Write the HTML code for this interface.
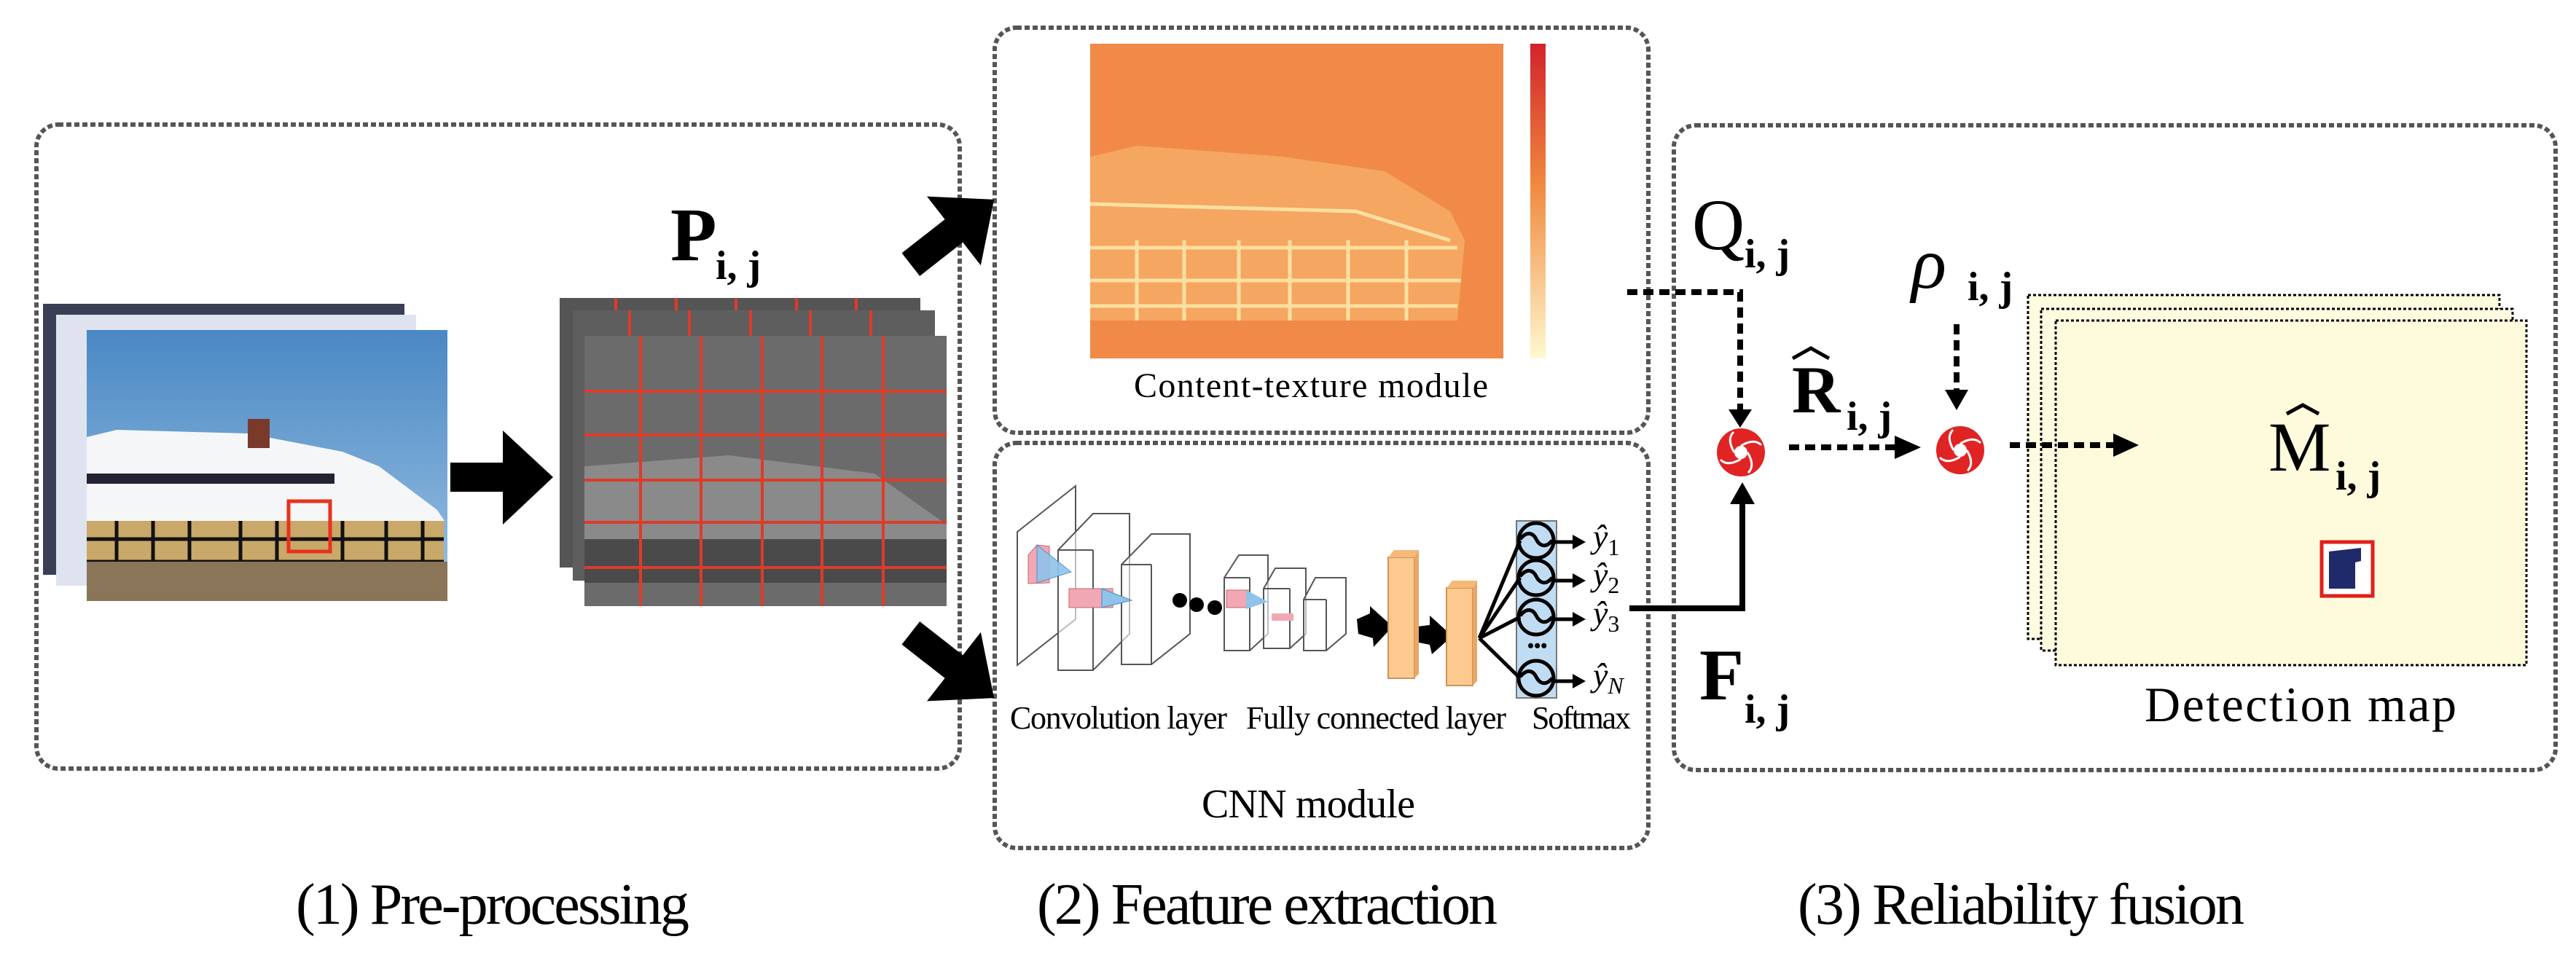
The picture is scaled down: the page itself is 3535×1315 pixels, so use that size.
<!DOCTYPE html>
<html><head><meta charset="utf-8"><style>
html,body{margin:0;padding:0;background:#fff;}
svg{display:block;}
svg text{font-family:"Liberation Serif","DejaVu Serif",serif;}
</style></head><body>
<svg width="3535" height="1315" viewBox="0 0 3535 1315" xmlns="http://www.w3.org/2000/svg" font-family="'Liberation Serif','DejaVu Serif',serif">
<defs>
<linearGradient id="sky" x1="0" y1="0" x2="0" y2="1"><stop offset="0" stop-color="#4a88c4"/><stop offset="1" stop-color="#9cc3e3"/></linearGradient>
<linearGradient id="cbar" x1="0" y1="0" x2="0" y2="1"><stop offset="0" stop-color="#d2232a"/><stop offset="0.45" stop-color="#f08a3e"/><stop offset="1" stop-color="#fff8d0"/></linearGradient>
<g id="ap"><circle r="33" fill="#e02424"/><circle r="9" fill="#fff"/>
<path d="M0,-9 Q18,-20 28,-10 M9,0 Q20,18 10,28 M0,9 Q-18,20 -28,10 M-9,0 Q-20,-18 -10,-28" stroke="#fff" stroke-width="3" fill="none"/></g>
<g id="sm"><circle r="24" fill="none" stroke="#000" stroke-width="5"/><path d="M-22,-2 C-12,-14 -4,-10 0,-2 C4,6 12,12 22,0" fill="none" stroke="#000" stroke-width="5"/></g>
</defs>
<g fill="none" stroke="#555" stroke-width="6" stroke-dasharray="7,4">
<rect x="50" y="171" width="1267" height="884" rx="30"/>
<rect x="1365" y="38" width="897" height="556" rx="30"/>
<rect x="1365" y="608" width="897" height="556" rx="30"/>
<rect x="2297" y="172" width="1210" height="885" rx="30"/>
</g>
<!-- photo stack -->
<rect x="59" y="417" width="496" height="372" fill="#3a3f55"/>
<rect x="77" y="432" width="494" height="372" fill="#dfe3ef"/>
<rect x="119" y="453" width="495" height="372" fill="url(#sky)"/>
<polygon points="119,600 160,590 340,595 470,620 520,640 600,700 610,715 119,715" fill="#f4f6f8"/>
<rect x="340" y="575" width="30" height="40" fill="#7a3a2a"/>
<rect x="119" y="650" width="340" height="14" fill="#223"/>
<rect x="119" y="715" width="490" height="56" fill="#c9a86a"/>
<g stroke="#111" stroke-width="5">
<line x1="119" y1="740" x2="609" y2="740"/><line x1="119" y1="771" x2="609" y2="771"/>
<line x1="160" y1="715" x2="160" y2="771"/><line x1="210" y1="715" x2="210" y2="771"/><line x1="260" y1="715" x2="260" y2="771"/><line x1="330" y1="715" x2="330" y2="771"/><line x1="380" y1="715" x2="380" y2="771"/><line x1="470" y1="715" x2="470" y2="771"/><line x1="530" y1="715" x2="530" y2="771"/><line x1="580" y1="715" x2="580" y2="771"/>
</g>
<rect x="119" y="771" width="495" height="54" fill="#8a7558"/>
<rect x="396" y="688" width="57" height="69" fill="none" stroke="#e8321e" stroke-width="5"/>
<polygon points="618,635 690,635 690,591 759,655 690,720 690,675 618,675" fill="#000"/>
<!-- grey stack -->
<rect x="768" y="409" width="495" height="370" fill="#555"/>
<rect x="786" y="426" width="497" height="371" fill="#5e5e5e"/>
<rect x="802" y="461" width="497" height="371" fill="#6b6b6b"/>
<polygon points="802,640 1000,625 1200,650 1299,720 1299,740 802,740" fill="#8a8a8a"/>
<rect x="802" y="740" width="497" height="60" fill="#4a4a4a"/>
<g stroke="#e03a2a" stroke-width="4">
<line x1="879" y1="461" x2="879" y2="832"/><line x1="962" y1="461" x2="962" y2="832"/><line x1="1046" y1="461" x2="1046" y2="832"/><line x1="1128" y1="461" x2="1128" y2="832"/><line x1="1212" y1="461" x2="1212" y2="832"/>
<line x1="802" y1="537" x2="1299" y2="537"/><line x1="802" y1="597" x2="1299" y2="597"/><line x1="802" y1="659" x2="1299" y2="659"/><line x1="802" y1="717" x2="1299" y2="717"/><line x1="802" y1="779" x2="1299" y2="779"/>
<line x1="845" y1="409" x2="845" y2="426"/><line x1="928" y1="409" x2="928" y2="426"/><line x1="1010" y1="409" x2="1010" y2="426"/><line x1="1093" y1="409" x2="1093" y2="426"/><line x1="1175" y1="409" x2="1175" y2="426"/>
<line x1="864" y1="426" x2="864" y2="461"/><line x1="946" y1="426" x2="946" y2="461"/><line x1="1030" y1="426" x2="1030" y2="461"/><line x1="1112" y1="426" x2="1112" y2="461"/><line x1="1195" y1="426" x2="1195" y2="461"/>
</g>
<text x="920" y="357" font-size="104" font-weight="bold">P</text>
<text x="982" y="383" font-size="56" font-weight="bold">i, j</text>
<g transform="translate(1305,320) rotate(-38)"><polygon points="-70,-20 5,-20 5,-60 75,0 5,60 5,20 -70,20" fill="#000"/></g>
<g transform="translate(1305,912) rotate(38)"><polygon points="-70,-20 5,-20 5,-60 75,0 5,60 5,20 -70,20" fill="#000"/></g>
<!-- heatmap -->
<rect x="1496" y="60" width="567" height="432" fill="#f18a48"/>
<polygon points="1496,215 1560,200 1760,215 1900,235 1990,290 2010,330 2000,440 1496,440" fill="#f6b26c" opacity="0.7"/>
<g stroke="#fde0a0" stroke-width="5" fill="none">
<path d="M1496,280 L1860,290 L1990,330"/><path d="M1496,340 L2000,340"/><path d="M1496,385 L2005,385"/><path d="M1496,420 L2000,420"/>
<line x1="1560" y1="330" x2="1560" y2="440"/><line x1="1625" y1="330" x2="1625" y2="440"/><line x1="1700" y1="330" x2="1700" y2="440"/><line x1="1770" y1="330" x2="1770" y2="440"/><line x1="1850" y1="330" x2="1850" y2="440"/><line x1="1930" y1="330" x2="1930" y2="440"/>
</g>
<rect x="2100" y="60" width="21" height="432" fill="url(#cbar)"/>
<text x="1556" y="545" font-size="48" textLength="486">Content-texture module</text>
<!-- CNN -->
<g stroke="#555" stroke-width="2" fill="#fff" fill-opacity="0.6">
<polygon points="1396,730 1476,667 1476,850 1396,913"/>
<polygon points="1452,755 1500,705 1550,705 1550,870 1500,920 1452,920"/><line x1="1452" y1="755" x2="1500" y2="755"/><line x1="1500" y1="755" x2="1500" y2="920"/>
<polygon points="1539,775 1580,733 1633,733 1633,870 1580,912 1539,912"/><line x1="1539" y1="775" x2="1580" y2="775"/><line x1="1580" y1="775" x2="1580" y2="912"/>
<polygon points="1680,793 1700,762 1740,762 1740,870 1715,893 1680,893"/><line x1="1680" y1="793" x2="1715" y2="793"/><line x1="1715" y1="793" x2="1715" y2="893"/>
<polygon points="1734,808 1750,780 1792,780 1792,870 1770,890 1734,890"/><line x1="1734" y1="808" x2="1770" y2="808"/><line x1="1770" y1="808" x2="1770" y2="890"/>
<polygon points="1789,823 1805,793 1847,793 1847,870 1820,893 1789,893"/><line x1="1789" y1="823" x2="1820" y2="823"/><line x1="1820" y1="823" x2="1820" y2="893"/>
</g>
<polygon points="1411,762 1423,748 1440,750 1440,800 1411,801" fill="#f2a7b4" stroke="#c66" stroke-width="1"/>
<polygon points="1423,748 1470,785 1423,800" fill="#8fc3ea" stroke="#4a8ac4" stroke-width="1" opacity="0.9"/>
<rect x="1467" y="808" width="60" height="26" fill="#f2a7b4" stroke="#c66" stroke-width="1"/>
<polygon points="1512,808 1553,824 1512,834" fill="#8fc3ea" stroke="#4a8ac4" stroke-width="1"/>
<rect x="1683" y="810" width="30" height="24" fill="#f2a7b4" stroke="#c66" stroke-width="1"/>
<polygon points="1710,810 1740,826 1710,836" fill="#8fc3ea"/>
<rect x="1745" y="842" width="30" height="10" fill="#f2a7b4"/>
<circle cx="1619" cy="824" r="10" fill="#000"/><circle cx="1642" cy="830" r="10" fill="#000"/><circle cx="1667" cy="834" r="10" fill="#000"/>
<polygon points="1862,850 1880,842 1880,832 1911,860 1885,888 1884,876 1864,870" fill="#000"/>
<polygon points="1945,860 1962,858 1962,845 1993,873 1965,898 1962,885 1947,882" fill="#000"/>
<rect x="1905" y="765" width="36" height="166" fill="#fdc98f" stroke="#c9965a" stroke-width="2"/>
<polygon points="1905,765 1913,755 1947,755 1941,765" fill="#f7b878"/><polygon points="1941,765 1947,755 1947,925 1941,931" fill="#e9a666"/>
<rect x="1985" y="807" width="36" height="134" fill="#fdc98f" stroke="#c9965a" stroke-width="2"/>
<polygon points="1985,807 1993,797 2027,797 2021,807" fill="#f7b878"/><polygon points="2021,807 2027,797 2027,935 2021,941" fill="#e9a666"/>
<rect x="2081" y="715" width="55" height="243" fill="#bfdcf3" stroke="#777" stroke-width="2"/>
<g stroke="#000" stroke-width="5"><line x1="2030" y1="876" x2="2086" y2="742"/><line x1="2030" y1="876" x2="2086" y2="793"/><line x1="2030" y1="876" x2="2086" y2="847"/><line x1="2030" y1="876" x2="2086" y2="931"/></g>
<use href="#sm" x="2108" y="742"/><use href="#sm" x="2108" y="793"/><use href="#sm" x="2108" y="847"/><use href="#sm" x="2108" y="931"/>
<text x="2096" y="895" font-size="26" font-weight="bold">•••</text>
<g stroke="#000" stroke-width="5"><line x1="2134" y1="744" x2="2160" y2="744"/><line x1="2134" y1="797" x2="2160" y2="797"/><line x1="2134" y1="850" x2="2160" y2="850"/><line x1="2134" y1="935" x2="2160" y2="935"/></g>
<g fill="#000"><polygon points="2158,734 2176,744 2158,754"/><polygon points="2158,787 2176,797 2158,807"/><polygon points="2158,840 2176,850 2158,860"/><polygon points="2158,925 2176,935 2158,945"/></g>
<g font-size="46" font-style="italic"><text x="2186" y="752">ŷ<tspan font-size="32" font-style="normal" dy="10">1</tspan></text><text x="2186" y="804">ŷ<tspan font-size="32" font-style="normal" dy="10">2</tspan></text><text x="2186" y="857">ŷ<tspan font-size="32" font-style="normal" dy="10">3</tspan></text><text x="2186" y="942">ŷ<tspan font-size="32" dy="10">N</tspan></text></g>
<text x="1386" y="1000" font-size="44" textLength="298">Convolution layer</text>
<text x="1710" y="1000" font-size="44" textLength="357">Fully connected layer</text>
<text x="2102" y="1000" font-size="44" textLength="136">Softmax</text>
<text x="1649" y="1122" font-size="56" textLength="293">CNN module</text>
<!-- fusion -->
<path d="M2233,401 H2388 V570" fill="none" stroke="#000" stroke-width="8" stroke-dasharray="14,8"/>
<polygon points="2372,562 2404,562 2388,587" fill="#000"/>
<path d="M2236,835 H2391 V690" fill="none" stroke="#000" stroke-width="8"/>
<polygon points="2374,692 2408,692 2391,662" fill="#000"/>
<use href="#ap" x="2389" y="621"/>
<use href="#ap" x="2690" y="618"/>
<path d="M2455,614 H2600" stroke="#000" stroke-width="8" stroke-dasharray="14,8"/>
<polygon points="2600,598 2636,614 2600,630" fill="#000"/>
<path d="M2685,445 V538" stroke="#000" stroke-width="8" stroke-dasharray="14,8"/>
<polygon points="2669,535 2701,535 2685,563" fill="#000"/>
<rect x="2783" y="405" width="647" height="472" fill="#fdfbe0" stroke="#000" stroke-width="3" stroke-dasharray="4,3"/>
<rect x="2801" y="424" width="647" height="469" fill="#fdfbe0" stroke="#000" stroke-width="3" stroke-dasharray="4,3"/>
<rect x="2821" y="440" width="646" height="473" fill="#fdfbdc" stroke="#000" stroke-width="3" stroke-dasharray="4,3"/>
<path d="M2758,611 H2900" stroke="#000" stroke-width="8" stroke-dasharray="14,8"/>
<polygon points="2900,595 2935,611 2900,627" fill="#000"/>
<rect x="3186" y="744" width="70" height="74" fill="#fff" stroke="#e0201c" stroke-width="5"/>
<polygon points="3196,757 3240,752 3240,770 3232,772 3232,808 3196,808" fill="#1f2a6b"/>
<text x="2322" y="342" font-size="100">Q</text><text x="2394" y="367" font-size="56" font-weight="bold">i, j</text>
<text x="2332" y="960" font-size="100" font-weight="bold">F</text><text x="2394" y="992" font-size="56" font-weight="bold">i, j</text>
<text x="2459" y="566" font-size="92" font-weight="bold">R</text>
<path d="M2460,492 L2485,478 L2510,492" fill="none" stroke="#000" stroke-width="5"/>
<text x="2534" y="590" font-size="56" font-weight="bold">i, j</text>
<text x="2623" y="395" font-size="100" font-style="italic">ρ</text><text x="2700" y="412" font-size="56" font-weight="bold">i, j</text>
<text x="3113" y="646" font-size="96">M</text>
<path d="M3138,568 L3160,556 L3182,568" fill="none" stroke="#000" stroke-width="5"/>
<text x="3205" y="672" font-size="56" font-weight="bold">i, j</text>
<text x="2943" y="990" font-size="68" textLength="428">Detection map</text>
<!-- captions -->
<text x="406" y="1268" font-size="80" textLength="540">(1) Pre-processing</text>
<text x="1423" y="1268" font-size="80" textLength="632">(2) Feature extraction</text>
<text x="2467" y="1268" font-size="80" textLength="613">(3) Reliability fusion</text>
</svg>
</body></html>
